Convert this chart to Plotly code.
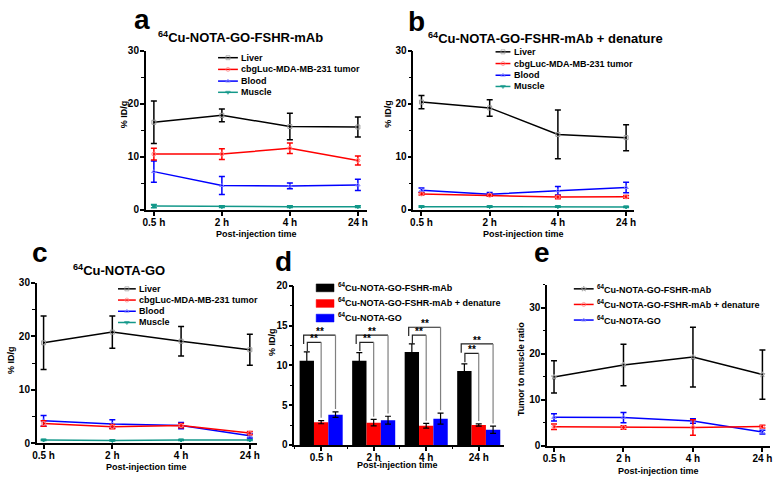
import plotly.graph_objects as go

W, H = 779, 486
FONT = "Liberation Sans"

# ---------------- data ----------------
times = ["0.5 h", "2 h", "4 h", "24 h"]
organs = ["Liver", "cbgLuc-MDA-MB-231 tumor", "Blood", "Muscle"]
probes = ["<sup>64</sup>Cu-NOTA-GO-FSHR-mAb",
          "<sup>64</sup>Cu-NOTA-GO-FSHR-mAb + denature",
          "<sup>64</sup>Cu-NOTA-GO"]

# panel a : 64Cu-NOTA-GO-FSHR-mAb (%ID/g)
a_liver = [16.5, 17.8, 15.7, 15.6]
a_liver_err = [4.0, 1.2, 2.5, 1.9]
a_tumor = [10.5, 10.5, 11.6, 9.3]
a_tumor_err = [1.1, 1.0, 1.0, 0.85]
a_blood = [7.2, 4.6, 4.5, 4.7]
a_blood_err = [2.0, 1.7, 0.55, 1.05]
a_muscle = [0.7, 0.6, 0.6, 0.6]
a_muscle_err = [0.3, 0.15, 0.15, 0.15]

# panel b : + denature
b_liver = [20.3, 19.2, 14.2, 13.6]
b_liver_err = [1.25, 1.55, 4.6, 2.45]
b_tumor = [3.0, 2.75, 2.4, 2.45]
b_tumor_err = [0.2, 0.2, 0.3, 0.25]
b_blood = [3.7, 2.95, 3.6, 4.2]
b_blood_err = [0.4, 0.3, 0.8, 1.0]
b_muscle = [0.6, 0.6, 0.6, 0.55]
b_muscle_err = [0.1, 0.1, 0.1, 0.1]

# panel c : 64Cu-NOTA-GO
c_liver = [18.8, 20.8, 19.1, 17.5]
c_liver_err = [5.0, 3.0, 2.75, 2.9]
c_tumor = [3.7, 3.1, 3.3, 1.9]
c_tumor_err = [0.5, 0.4, 0.4, 0.3]
c_blood = [4.2, 3.6, 3.3, 1.4]
c_blood_err = [1.0, 0.8, 0.6, 0.4]
c_muscle = [0.6, 0.5, 0.6, 0.6]
c_muscle_err = [0.1, 0.1, 0.1, 0.1]

# panel d : tumor uptake (%ID/g)
d_fshr = [10.6, 10.6, 11.7, 9.3]
d_fshr_err = [1.1, 1.0, 1.0, 0.9]
d_denat = [2.86, 2.8, 2.4, 2.5]
d_denat_err = [0.2, 0.4, 0.3, 0.15]
d_go = [3.8, 3.1, 3.3, 1.9]
d_go_err = [0.35, 0.5, 0.7, 0.45]
d_outer_bracket = [13.8, 13.8, 14.8, 12.7]
d_inner_bracket = [12.9, 12.9, 13.8, 11.5]
d_sig = ["**", "**", "**", "**"]

# panel e : tumor to muscle ratio
e_fshr = [15.0, 17.6, 19.3, 15.5]
e_fshr_err = [3.5, 4.5, 6.5, 5.35]
e_denat = [4.15, 4.0, 4.0, 4.2]
e_denat_err = [0.6, 0.4, 1.7, 0.3]
e_go = [6.2, 6.15, 5.4, 3.0]
e_go_err = [0.8, 1.1, 0.5, 0.4]

# ---------------- styling ----------------
BLACK, RED, BLUE, TEAL = "#000000", "#ff0000", "#0000ff", "#13988a"
organ_style = [
    (BLACK, "square-open", "#9a9a9a"),
    (RED, "circle-open", "#ff8080"),
    (BLUE, "triangle-up-open", "#8080ff"),
    (TEAL, "triangle-down", TEAL),
]
probe_style = [
    (BLACK, "star-open", "#9a9a9a"),
    (RED, "circle-open", "#ff8080"),
    (BLUE, "triangle-up-open", "#8080ff"),
]


def fx(p):
    return p / W


def fy(p):
    return 1 - p / H


xidx = list(range(len(times)))
fig = go.Figure()


def line_trace(y, err, style, ax):
    color, sym, mcol = style
    return go.Scatter(
        x=xidx, y=y, mode="lines+markers", xaxis="x" + ax, yaxis="y" + ax,
        line=dict(color=color, width=1.5),
        marker=dict(symbol=sym, size=4, color=mcol, line=dict(width=1, color=mcol)),
        error_y=dict(type="data", array=err, color=color, thickness=1.5, width=3),
        showlegend=False, hoverinfo="skip")


panels_lines = {
    "1": [(a_liver, a_liver_err), (a_tumor, a_tumor_err), (a_blood, a_blood_err), (a_muscle, a_muscle_err)],
    "2": [(b_liver, b_liver_err), (b_tumor, b_tumor_err), (b_blood, b_blood_err), (b_muscle, b_muscle_err)],
    "3": [(c_liver, c_liver_err), (c_tumor, c_tumor_err), (c_blood, c_blood_err), (c_muscle, c_muscle_err)],
}
for ax, series in panels_lines.items():
    for k in [3, 2, 1, 0]:
        y, e = series[k]
        fig.add_trace(line_trace(y, e, organ_style[k], ax))

e_series = [(e_fshr, e_fshr_err), (e_denat, e_denat_err), (e_go, e_go_err)]
for k in [2, 1, 0]:
    y, e = e_series[k]
    fig.add_trace(line_trace(y, e, probe_style[k], "5"))

# bars d
for vals, errs, col in [(d_fshr, d_fshr_err, BLACK), (d_denat, d_denat_err, RED), (d_go, d_go_err, BLUE)]:
    fig.add_trace(go.Bar(
        x=xidx, y=vals, xaxis="x4", yaxis="y4", marker=dict(color=col, line=dict(width=0)),
        error_y=dict(type="data", array=errs, color="#000000", thickness=1.2, width=3),
        showlegend=False, hoverinfo="skip"))

# significance brackets in d
bw = (1 - 0.18) / 3
dark_x, dark_y, gray_x, gray_y = [], [], [], []
annos = []
for i in xidx:
    for h, xl, xr, top in [
        (d_outer_bracket[i], i - bw - 0.06, i + bw, d_go[i] + d_go_err[i] + 0.35),
        (d_inner_bracket[i], i - bw + 0.01, i, d_denat[i] + d_denat_err[i] + 0.35),
    ]:
        dark_x += [xl, xl, xr, None]
        dark_y += [h - 1.1, h, h, None]
        gray_x += [xr, xr, None]
        gray_y += [h, top, None]
        annos.append(dict(x=(xl + xr) / 2, y=h, xref="x4", yref="y4", text=d_sig[i],
                          showarrow=False, yanchor="bottom", yshift=-4,
                          font=dict(size=10, color="#000", family=FONT, weight="bold")))
fig.add_trace(go.Scatter(x=dark_x, y=dark_y, xaxis="x4", yaxis="y4", mode="lines",
                         line=dict(color="#222222", width=1.2), showlegend=False, hoverinfo="skip"))
fig.add_trace(go.Scatter(x=gray_x, y=gray_y, xaxis="x4", yaxis="y4", mode="lines",
                         line=dict(color="#808080", width=1.2), showlegend=False, hoverinfo="skip"))


# ---------------- manual legends (overlay axis in pixel units) ----------------
def legend_rows(x0, x1, rows, labels, styles, size=9):
    for yr, lab, st in zip(rows, labels, styles):
        color, sym, mcol = st
        fig.add_trace(go.Scatter(
            x=[x0, (x0 + x1) / 2, x1], y=[yr, yr, yr], xaxis="x6", yaxis="y6",
            mode="lines+markers", line=dict(color=color, width=1.5),
            marker=dict(symbol=sym, size=[0, 4, 0], color=mcol, line=dict(width=1, color=mcol)),
            showlegend=False, hoverinfo="skip"))
        annos.append(dict(x=fx(x1 + 1.5), y=fy(yr), xref="paper", yref="paper", text=lab,
                          showarrow=False, xanchor="left", yanchor="middle",
                          font=dict(size=size, color="#000", family=FONT, weight="bold")))


legend_rows(216, 236, [53, 65, 77, 88.5], organs, organ_style)
legend_rows(496, 511, [47, 59, 71, 82.5], organs, organ_style)
legend_rows(115, 133, [290, 301.5, 313, 324.5], organs, organ_style)
legend_rows(575, 595, [290, 306, 322], probes, probe_style, size=9)

# d legend boxes
for yr, lab, col in zip([289, 305, 320], probes, [BLACK, RED, BLUE]):
    fig.add_trace(go.Scatter(
        x=[315, 333, 333, 315, 315], y=[yr - 4, yr - 4, yr + 4, yr + 4, yr - 4],
        xaxis="x6", yaxis="y6", mode="lines", fill="toself", fillcolor=col,
        line=dict(color=col, width=0.5), showlegend=False, hoverinfo="skip"))
    annos.append(dict(x=fx(335), y=fy(yr - 1), xref="paper", yref="paper", text=lab,
                      showarrow=False, xanchor="left", yanchor="middle",
                      font=dict(size=9, color="#000", family=FONT, weight="bold")))


# ---------------- text annotations ----------------
def txt(x, y, s, size, angle=0):
    annos.append(dict(x=fx(x), y=fy(y), xref="paper", yref="paper", text=s, showarrow=False,
                      xanchor="center", yanchor="middle", textangle=angle,
                      font=dict(size=size, color="#000", family=FONT, weight="bold")))


for lab, x, y in [("a", 139, 14), ("b", 416, 16), ("c", 36.5, 253), ("d", 282, 262), ("e", 543, 253)]:
    txt(x, y, lab, 28)
txt(239, 32, probes[0], 13)
txt(546, 33, probes[1], 13)
txt(116, 271, probes[2], 13)
for x, y in [(121, 111), (388, 111), (7, 363), (271, 345)]:
    txt(x, y, "% ID/g", 9, -90)
txt(522, 372, "Tumor to muscle ratio", 9, -90)
for x, y in [(254.5, 234), (524.5, 234), (144, 473), (397, 471), (660, 477)]:
    txt(x, y, "Post-injection time", 9)

# ---------------- axes ----------------
tickfont = dict(size=10, color="#000", family=FONT, weight="bold")


def xax(dom, rng, minor=None):
    d = dict(domain=[fx(dom[0]), fx(dom[1])], range=rng, tickvals=xidx, ticktext=times,
             showline=True, linecolor="#000", linewidth=1.5, ticks="outside", ticklen=4,
             tickwidth=1.5, tickcolor="#000", showgrid=False, zeroline=False, tickfont=tickfont,
             ticklabelstandoff=-2)
    if minor:
        d["minor"] = minor
    return d


def yax(top, bot, rng, dtick, mdt, anchor):
    return dict(domain=[fy(bot), fy(top)], range=rng, dtick=dtick, tick0=0,
                showline=True, linecolor="#000", linewidth=1.5, ticks="outside", ticklen=4,
                tickwidth=1.5, tickcolor="#000", showgrid=False, zeroline=False, tickfont=tickfont,
                ticklabelstandoff=-1,
                minor=dict(dtick=mdt, tick0=0, ticks="outside", ticklen=2.5, tickwidth=1.2, tickcolor="#000"),
                anchor=anchor)


layout = dict(
    width=W, height=H, margin=dict(l=0, r=0, t=0, b=0),
    paper_bgcolor="white", plot_bgcolor="rgba(0,0,0,0)",
    font=dict(family=FONT, color="#000", weight="bold"),
    barmode="group", bargap=0.18, bargroupgap=0,
    showlegend=False,
    xaxis=dict(xax([143, 366], [-0.12, 3.13]), anchor="y"),
    yaxis=yax(45.7, 209, [0, 30], 10, 5, "x"),
    xaxis2=dict(xax([413, 636], [-0.12, 3.12]), anchor="y2"),
    yaxis2=yax(45.7, 209, [0, 30], 10, 5, "x2"),
    xaxis3=dict(xax([33, 255], [-0.1, 3.1]), anchor="y3"),
    yaxis3=yax(284, 448.3, [0, 30], 10, 5, "x3"),
    xaxis4=dict(xax([293, 505], [-0.51, 3.49],
                    minor=dict(tickvals=[-0.5, 0.5, 1.5, 2.5], ticks="outside", ticklen=2.5,
                               tickwidth=1.2, tickcolor="#000")), anchor="y4"),
    yaxis4=yax(287, 450, [0, 20], 5, 2.5, "x4"),
    xaxis5=dict(xax([548, 773], [-0.1, 3.11]), anchor="y5"),
    yaxis5=yax(286, 451, [0, 35], 10, 5, "x5"),
    xaxis6=dict(domain=[0, 1], range=[0, W], visible=False, fixedrange=True, anchor="y6"),
    yaxis6=dict(domain=[0, 1], range=[H, 0], visible=False, fixedrange=True, anchor="x6"),
    annotations=annos,
)
fig.update_layout(**layout)
fig.write_html("out.html", config={"displayModeBar": False},
               post_script="document.body.style.margin='0';document.body.style.overflow='hidden';")
